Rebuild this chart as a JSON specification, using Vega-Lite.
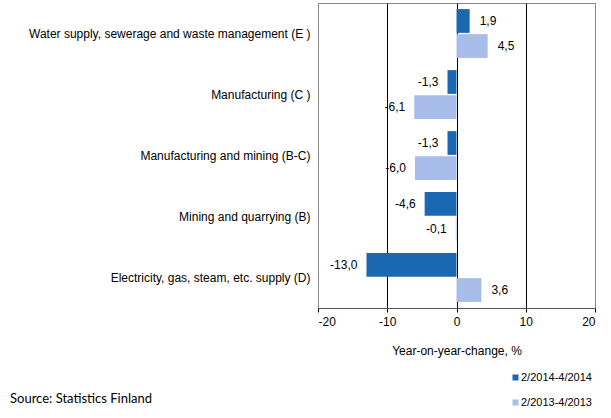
{
  "$schema": "https://vega.github.io/schema/vega-lite/v6.json",
  "width": 277,
  "height": 305,
  "autosize": {"type": "none"},
  "padding": {"left": 318, "top": 3, "right": 16, "bottom": 110},
  "config": {
    "font": "Liberation Sans",
    "locale": {"number": {"decimal": ",", "thousands": " ", "grouping": [3], "currency": ["", " €"], "minus": "-"}},
    "view": {"stroke": "#888888", "strokeWidth": 1}
  },
  "title": {
    "text": "Source: Statistics Finland",
    "orient": "bottom",
    "anchor": "start",
    "frame": "group",
    "font": "Lato",
    "fontSize": 13,
    "fontWeight": "normal",
    "color": "#000",
    "dx": -308,
    "dy": -23,
    "offset": 8
  },
  "data": {
    "values": [
      {"category": "Water supply, sewerage and waste management (E )", "period": "2/2014-4/2014", "value": 1.9},
      {"category": "Water supply, sewerage and waste management (E )", "period": "2/2013-4/2013", "value": 4.5},
      {"category": "Manufacturing (C )", "period": "2/2014-4/2014", "value": -1.3},
      {"category": "Manufacturing (C )", "period": "2/2013-4/2013", "value": -6.1},
      {"category": "Manufacturing and mining (B-C)", "period": "2/2014-4/2014", "value": -1.3},
      {"category": "Manufacturing and mining (B-C)", "period": "2/2013-4/2013", "value": -6.0},
      {"category": "Mining and quarrying (B)", "period": "2/2014-4/2014", "value": -4.6},
      {"category": "Mining and quarrying (B)", "period": "2/2013-4/2013", "value": -0.1},
      {"category": "Electricity, gas, steam, etc. supply  (D)", "period": "2/2014-4/2014", "value": -13.0},
      {"category": "Electricity, gas, steam, etc. supply  (D)", "period": "2/2013-4/2013", "value": 3.6}
    ]
  },
  "encoding": {
    "y": {
      "field": "category",
      "type": "nominal",
      "sort": null,
      "scale": {"paddingInner": 0.2, "paddingOuter": 0.1},
      "axis": {"title": null, "ticks": false, "domain": false, "labelPadding": 8, "labelFontSize": 12, "labelColor": "#000", "labelLimit": 320}
    },
    "yOffset": {
      "field": "period",
      "type": "nominal",
      "sort": ["2/2014-4/2014", "2/2013-4/2013"],
      "scale": {"paddingInner": 0.05}
    },
    "x": {
      "field": "value",
      "type": "quantitative",
      "scale": {"domain": [-20, 20]},
      "axis": {
        "title": "Year-on-year-change, %",
        "titleFontSize": 12,
        "titleFontWeight": "normal",
        "titleColor": "#000",
        "titlePadding": 18,
        "values": [-20, -10, 0, 10, 20],
        "labelFontSize": 12,
        "labelColor": "#000",
        "labelPadding": 4,
        "tickColor": "#000",
        "tickSize": 4,
        "domainColor": "#555555",
        "grid": true,
        "gridColor": {"condition": {"test": "abs(datum.value) < 20", "value": "#000000"}, "value": "#888888"},
        "gridOpacity": 1
      }
    }
  },
  "layer": [
    {
      "mark": {"type": "bar"},
      "encoding": {
        "color": {
          "field": "period",
          "type": "nominal",
          "sort": ["2/2014-4/2014", "2/2013-4/2013"],
          "scale": {"domain": ["2/2014-4/2014", "2/2013-4/2013"], "range": ["#1a68b2", "#a8bce9"]},
          "legend": {
            "title": null,
            "orient": "none",
            "legendX": 192,
            "legendY": 369,
            "symbolType": "square",
            "symbolSize": 36,
            "symbolStrokeWidth": 0,
            "labelFontSize": 11,
            "labelColor": "#000",
            "labelOffset": 0,
            "rowPadding": 13
          }
        }
      }
    },
    {
      "transform": [{"filter": "datum.value >= 0"}],
      "mark": {"type": "text", "align": "left", "dx": 10, "fontSize": 12, "color": "#000"},
      "encoding": {"text": {"field": "value", "type": "quantitative", "format": ".1f"}}
    },
    {
      "transform": [{"filter": "datum.value < 0"}],
      "mark": {"type": "text", "align": "right", "dx": -9, "fontSize": 12, "color": "#000"},
      "encoding": {"text": {"field": "value", "type": "quantitative", "format": ".1f"}}
    }
  ]
}
